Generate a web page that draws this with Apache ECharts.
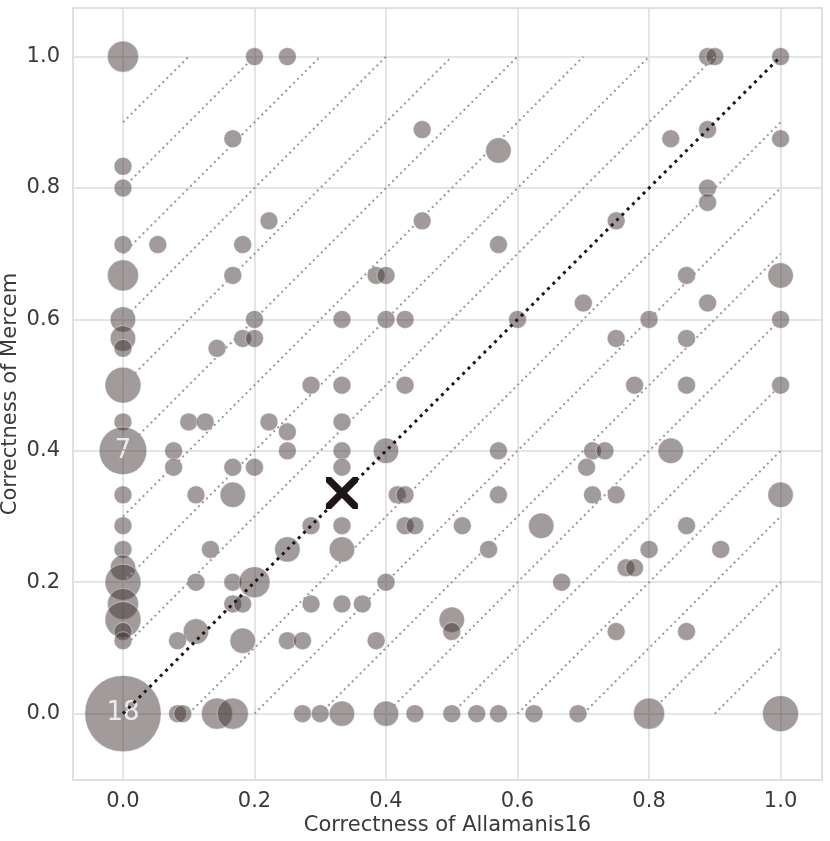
<!DOCTYPE html>
<html lang="en">
<head>
	<meta charset="UTF-8">
	<title>Correctness scatter</title>
	<script type="text/javascript" src="https://cdn.jsdelivr.net/npm/echarts/dist/echarts.min.js"></script>
	<style type="text/css">
	html, body{margin: 0;padding: 0;background: #fff;}
	#container{width: 830px;height: 841px;}
	</style>
</head>
<body>
	<div id="container"></div>
	<script type="text/javascript">
		// correctness of Allamanis16 (x), Mercem (y), and how many samples sit on that spot
		var corrAllamanis = [
			0, 0, 0, 0, 0, 0, 0, 0, 0, 0, 0, 0, 0, 0, 0, 0, 0, 0, 0, 0, 0,
			0.2, 0.25, 0.889, 0.9, 1,
			0.455, 0.889, 0.167, 0.833, 1, 0.571, 0.889, 0.889,
			0.222, 0.455, 0.75, 0.053, 0.182, 0.571,
			0.167, 0.385, 0.4, 0.857, 1, 0.7, 0.889,
			0.2, 0.333, 0.4, 0.429, 0.6, 0.8, 1,
			0.182, 0.2, 0.75, 0.857, 0.143,
			0.286, 0.333, 0.429, 0.778, 0.857, 1,
			0.1, 0.125, 0.222, 0.333, 0.25,
			0.077, 0.25, 0.333, 0.4, 0.571, 0.714, 0.733, 0.833,
			0.077, 0.167, 0.2, 0.333, 0.705,
			0.111, 0.167, 0.417, 0.429, 0.571, 0.714, 0.75, 1,
			0.286, 0.333, 0.429, 0.444, 0.516, 0.636, 0.857,
			0.133, 0.25, 0.333, 0.556, 0.8, 0.909,
			0.765, 0.778,
			0.111, 0.167, 0.2, 0.4, 0.667,
			0.167, 0.182, 0.286, 0.333, 0.364,
			0.5, 0.111, 0.5, 0.75, 0.857,
			0.083, 0.182, 0.25, 0.273, 0.385,
			0.083, 0.091, 0.143, 0.167, 0.273, 0.3, 0.333, 0.4, 0.444, 0.5, 0.538, 0.571, 0.625, 0.692, 0.8, 1
		];
		var corrMercem = [
			1, 0.833, 0.8, 0.714, 0.667, 0.6, 0.571, 0.556, 0.5, 0.444, 0.4, 0.333, 0.286, 0.25, 0.222, 0.2, 0.167, 0.143, 0.125, 0.111, 0,
			1, 1, 1, 1, 1,
			0.889, 0.889, 0.875, 0.875, 0.875, 0.857, 0.8, 0.778,
			0.75, 0.75, 0.75, 0.714, 0.714, 0.714,
			0.667, 0.667, 0.667, 0.667, 0.667, 0.625, 0.625,
			0.6, 0.6, 0.6, 0.6, 0.6, 0.6, 0.6,
			0.571, 0.571, 0.571, 0.571, 0.556,
			0.5, 0.5, 0.5, 0.5, 0.5, 0.5,
			0.444, 0.444, 0.444, 0.444, 0.429,
			0.4, 0.4, 0.4, 0.4, 0.4, 0.4, 0.4, 0.4,
			0.375, 0.375, 0.375, 0.375, 0.375,
			0.333, 0.333, 0.333, 0.333, 0.333, 0.333, 0.333, 0.333,
			0.286, 0.286, 0.286, 0.286, 0.286, 0.286, 0.286,
			0.25, 0.25, 0.25, 0.25, 0.25, 0.25,
			0.222, 0.222,
			0.2, 0.2, 0.2, 0.2, 0.2,
			0.167, 0.167, 0.167, 0.167, 0.167,
			0.143, 0.125, 0.125, 0.125, 0.125,
			0.111, 0.111, 0.111, 0.111, 0.111,
			0, 0, 0, 0, 0, 0, 0, 0, 0, 0, 0, 0, 0, 0, 0, 0
		];
		var pairCount = [
			3, 1, 1, 1, 3, 2, 2, 1, 4, 1, 7, 1, 1, 1, 2, 4, 3, 4, 1, 1, 18,
			1, 1, 1, 1, 1,
			1, 1, 1, 1, 1, 2, 1, 1,
			1, 1, 1, 1, 1, 1,
			1, 1, 1, 1, 2, 1, 1,
			1, 1, 1, 1, 1, 1, 1,
			1, 1, 1, 1, 1,
			1, 1, 1, 1, 1, 1,
			1, 1, 1, 1, 1,
			1, 1, 1, 2, 1, 1, 1, 2,
			1, 1, 1, 1, 1,
			1, 2, 1, 1, 1, 1, 1, 2,
			1, 1, 1, 1, 1, 2, 1,
			1, 2, 2, 1, 1, 1,
			1, 1,
			1, 1, 3, 1, 1,
			1, 1, 1, 1, 1,
			2, 2, 1, 1, 1,
			1, 2, 1, 1, 1,
			1, 1, 3, 3, 1, 1, 2, 2, 1, 1, 1, 1, 1, 1, 3, 4
		];
		// mean correctness (the cross)
		var meanPoint = [0.333, 0.336];
		// offsets of the grey guide lines y = x + k
		var guideOffsets = [-0.9, -0.8, -0.7, -0.6, -0.5, -0.4, -0.3, -0.2, -0.1, 0.1, 0.2, 0.3, 0.4, 0.5, 0.6, 0.7, 0.8, 0.9];
		var tickValues = [0, 0.2, 0.4, 0.6, 0.8, 1.0];

		var bubbles = [];
		for (var i = 0; i < pairCount.length; i++) {
			bubbles.push([corrAllamanis[i], corrMercem[i], pairCount[i]]);
		}

		var series = [{
			type: 'scatter',
			z: 2,
			data: bubbles,
			symbolSize: function (v) { return 18 * Math.sqrt(v[2]); },
			itemStyle: {
				color: 'rgba(60,45,45,0.6)',
				borderColor: 'rgba(255,255,255,0.55)',
				borderWidth: 1
			},
			label: {
				show: true,
				position: 'inside',
				color: '#fff',
				fontSize: 26,
				fontFamily: 'DejaVu Sans',
				formatter: function (p) { return p.value[2] >= 5 ? String(p.value[2]) : ''; }
			},
			silent: true
		}];

		guideOffsets.forEach(function (k) {
			series.push({
				type: 'line',
				z: 3,
				symbol: 'none',
				silent: true,
				data: [[Math.max(0, -k), Math.max(0, k)], [Math.min(1, 1 - k), Math.min(1, 1 + k)]],
				lineStyle: {color: '#999', width: 2, type: [2, 3.6]}
			});
		});

		series.push({
			type: 'line',
			z: 4,
			symbol: 'none',
			silent: true,
			data: [[0, 0], [1, 1]],
			lineStyle: {color: '#1e1616', width: 3, type: [3, 4.5]}
		});

		series.push({
			type: 'scatter',
			z: 5,
			silent: true,
			data: [meanPoint],
			symbol: 'path://M0,0 L1.6,0 L5,3.4 L8.4,0 L10,0 L10,1.6 L6.6,5 L10,8.4 L10,10 L8.4,10 L5,6.6 L1.6,10 L0,10 L0,8.4 L3.4,5 L0,1.6 Z',
			symbolSize: [32, 32],
			itemStyle: {color: '#1e1616', opacity: 1}
		});

		var axisText = {color: '#3a3a3a', fontSize: 21, fontFamily: 'DejaVu Sans'};

		var option = {
			animation: false,
			backgroundColor: '#fff',
			grid: {
				left: 73, right: 8, top: 8, bottom: 61,
				outerBoundsMode: 'none',
				containLabel: false,
				show: true, borderColor: '#d6d6d6', borderWidth: 1.5
			},
			xAxis: {
				type: 'value',
				min: -0.076,
				max: 1.063,
				name: 'Correctness of Allamanis16',
				nameLocation: 'middle',
				nameGap: 35,
				nameMoveOverlap: false,
				nameTextStyle: axisText,
				axisLine: {show: false},
				axisTick: {show: false, customValues: tickValues},
				axisLabel: {
					customValues: tickValues,
					margin: 11,
					color: axisText.color, fontSize: axisText.fontSize, fontFamily: axisText.fontFamily,
					formatter: function (v) { return v.toFixed(1); }
				},
				splitLine: {show: true, lineStyle: {color: '#dcdcdc', width: 1.5}}
			},
			yAxis: {
				type: 'value',
				min: -0.101,
				max: 1.074,
				name: 'Correctness of Mercem',
				nameLocation: 'middle',
				nameGap: 52,
				nameMoveOverlap: false,
				nameTextStyle: axisText,
				axisLine: {show: false},
				axisTick: {show: false, customValues: tickValues},
				axisLabel: {
					customValues: tickValues,
					margin: 13,
					color: axisText.color, fontSize: axisText.fontSize, fontFamily: axisText.fontFamily,
					formatter: function (v) { return v.toFixed(1); }
				},
				splitLine: {show: true, lineStyle: {color: '#dcdcdc', width: 1.5}}
			},
			series: series
		};

		var myChart = echarts.init(document.getElementById('container'));
		myChart.setOption(option);
	</script>
</body>
</html>
